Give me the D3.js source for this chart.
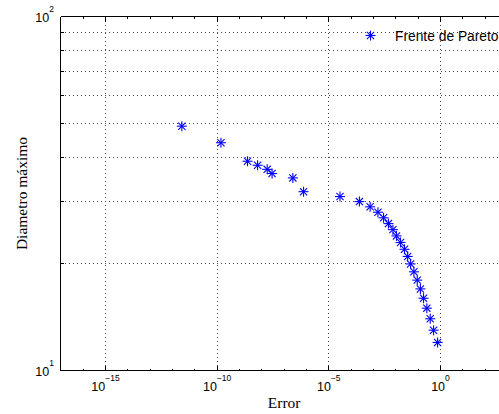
<!DOCTYPE html>
<html>
<head>
<meta charset="utf-8">
<script src="https://cdn.jsdelivr.net/npm/d3@7"></script>
<style>
  html, body { margin: 0; padding: 0; background: #fff; overflow: hidden; }
  svg { display: block; }
</style>
</head>
<body>
<script>
// ---- data ----
const errorValues = [2.63e-12, 1.48e-10, 2.29e-9, 6.46e-9, 1.74e-8, 2.88e-8, 2.45e-7, 7.41e-7,
  3.16e-5, 2.34e-4, 7.08e-4, 1.58e-3, 2.82e-3, 4.68e-3, 7.41e-3, 1.07e-2, 1.62e-2, 2.45e-2,
  3.39e-2, 4.57e-2, 6.46e-2, 9.12e-2, 0.126, 0.174, 0.245, 0.347, 0.490, 0.741];
const diameterValues = [49, 44, 39, 38, 37, 36, 35, 32, 31, 30, 29, 28, 27, 26, 25, 24, 23, 22,
  21, 20, 19, 18, 17, 16, 15, 14, 13, 12];
const xTickExponents = [-15, -10, -5, 0];
const xMinorExponents = [-17, -16, -15, -14, -13, -12, -11, -10, -9, -8, -7, -6, -5, -4, -3, -2, -1, 0, 1, 2, 3];
const yTickExponents = [1, 2];
const yMinorValues = [20, 30, 40, 50, 60, 70, 80, 90];
const seriesName = "Frente de Pareto";
const xTitle = "Error";
const yTitle = "Diametro máximo";

(function () {
// ---- layout ----
const W = 499, H = 414;
const svg = d3.select("body").append("svg").attr("width", W).attr("height", H);

const x = d3.scaleLog().domain([1e-17, 1e3]).range([60.8, 507.5]);
const y = d3.scaleLog().domain([10, 100]).range([370.5, 16.5]);
const px = v => Math.round(x(v) - 0.5) + 0.5;
const py = v => Math.round(y(v) - 0.5) + 0.5;

const pL = px(1e-17), pR = x(1e3), pT = py(100), pB = py(10);
const sans = "Liberation Sans, Arial, Helvetica, sans-serif";
const serif = "Liberation Serif, Times New Roman, serif";

// grid
const grid = svg.append("g").attr("shape-rendering", "crispEdges")
  .attr("stroke", "#444").attr("stroke-width", 1).attr("stroke-dasharray", "1,3");
grid.selectAll("line.gy").data(yMinorValues).join("line")
  .attr("x1", pL).attr("x2", pR).attr("y1", d => py(d)).attr("y2", d => py(d));
grid.selectAll("line.gx").data(xTickExponents).join("line")
  .attr("x1", d => px(Math.pow(10, d))).attr("x2", d => px(Math.pow(10, d)))
  .attr("y1", pT).attr("y2", pB);

// axes box (right side off-canvas)
const ax = svg.append("g").attr("shape-rendering", "crispEdges").attr("stroke", "#000").attr("stroke-width", 1);
ax.append("line").attr("x1", pL).attr("x2", pR).attr("y1", pB).attr("y2", pB);
ax.append("line").attr("x1", pL).attr("x2", pR).attr("y1", pT).attr("y2", pT);
ax.append("line").attr("x1", pL).attr("x2", pL).attr("y1", pT).attr("y2", pB);

// x ticks (major + minor, top and bottom)
ax.selectAll("line.xmin").data(xMinorExponents).join("line")
  .attr("x1", d => px(Math.pow(10, d))).attr("x2", d => px(Math.pow(10, d)))
  .attr("y1", pB).attr("y2", pB - 2);
ax.selectAll("line.xmint").data(xMinorExponents).join("line")
  .attr("x1", d => px(Math.pow(10, d))).attr("x2", d => px(Math.pow(10, d)))
  .attr("y1", pT).attr("y2", pT + 2);
ax.selectAll("line.xmaj").data(xTickExponents).join("line")
  .attr("x1", d => px(Math.pow(10, d))).attr("x2", d => px(Math.pow(10, d)))
  .attr("y1", pB).attr("y2", pB - 5);
ax.selectAll("line.xmajt").data(xTickExponents).join("line")
  .attr("x1", d => px(Math.pow(10, d))).attr("x2", d => px(Math.pow(10, d)))
  .attr("y1", pT).attr("y2", pT + 5);
// y minor ticks
ax.selectAll("line.ymin").data(yMinorValues).join("line")
  .attr("x1", pL).attr("x2", pL + 3).attr("y1", d => py(d)).attr("y2", d => py(d));

// x tick labels
const xl = svg.append("g").attr("font-family", sans).attr("fill", "#000");
xTickExponents.forEach(e => {
  const t = xl.append("text").attr("x", x(Math.pow(10, e))).attr("y", 390.7)
    .attr("text-anchor", "middle").attr("font-size", 12.5);
  t.append("tspan").text("10");
  t.append("tspan").attr("dy", -10).attr("font-size", 8.5)
    .text(e < 0 ? "\u2212" + Math.abs(e) : String(e));
});
// y tick labels
yTickExponents.forEach(e => {
  const yy = y(Math.pow(10, e));
  const t = xl.append("text").attr("x", 54).attr("y", yy + 5)
    .attr("text-anchor", "end").attr("font-size", 12.5);
  t.append("tspan").text("10");
  t.append("tspan").attr("dy", -9.5).attr("font-size", 8.5).text(String(e));
});

// axis titles
svg.append("text").attr("x", (x(1e-17) + x(1e3)) / 2).attr("y", 407.5)
  .attr("text-anchor", "middle").attr("font-family", serif).attr("font-size", 15.5)
  .text(xTitle);
svg.append("text").attr("transform", "translate(26.5," + ((y(10) + y(100)) / 2) + ") rotate(-90)")
  .attr("text-anchor", "middle").attr("font-family", serif).attr("font-size", 15.5)
  .text(yTitle);

// asterisk marker
function asterisk(g, r) {
  const d = r * 0.72;
  g.append("line").attr("x1", -r).attr("x2", r).attr("y1", 0).attr("y2", 0);
  g.append("line").attr("x1", 0).attr("x2", 0).attr("y1", -r).attr("y2", r);
  g.append("line").attr("x1", -d).attr("x2", d).attr("y1", -d).attr("y2", d);
  g.append("line").attr("x1", -d).attr("x2", d).attr("y1", d).attr("y2", -d);
}

const pts = errorValues.map((e, i) => ({ e, d: diameterValues[i] }));
const marks = svg.append("g").attr("stroke", "#0000ff").attr("stroke-width", 1.1).attr("fill", "none");
marks.selectAll("g").data(pts).join("g")
  .attr("transform", p => "translate(" + x(p.e) + "," + y(p.d) + ")")
  .each(function () { asterisk(d3.select(this), 5); });

// legend (no box)
const lg = svg.append("g");
const lm = lg.append("g").attr("transform", "translate(370.5,35.5)")
  .attr("stroke", "#0000ff").attr("stroke-width", 1.1).attr("fill", "none");
asterisk(lm, 5);
lg.append("text").attr("x", 395).attr("y", 40.5).attr("font-family", sans)
  .attr("font-size", 13.8).attr("fill", "#000").text(seriesName);
})();
</script>
</body>
</html>
